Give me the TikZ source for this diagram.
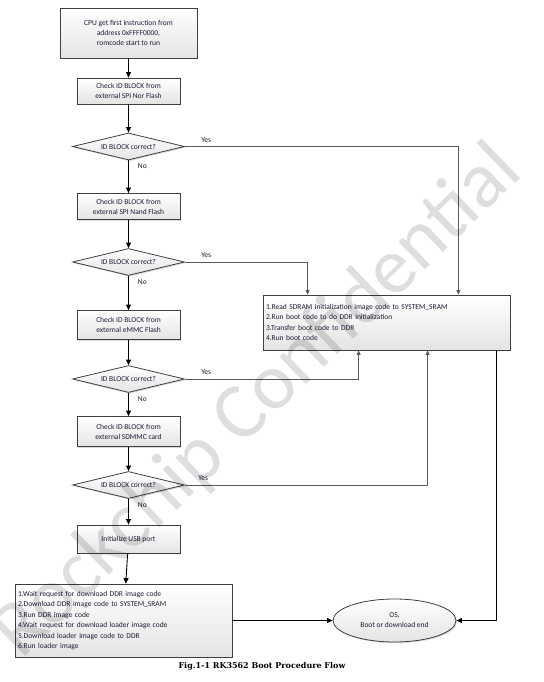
\documentclass[tikz,border=0pt]{standalone}
\usepackage{fontspec}
\setmainfont{Carlito}
\newfontfamily\capfont{DejaVu Serif}
\usepackage{tikz}
\usetikzlibrary{positioning,arrows.meta,calc,shapes.geometric,shadows}
\definecolor{rkline}{HTML}{3F3F3F}
\definecolor{rkgray}{HTML}{5A5A5A}
\definecolor{rkfill}{HTML}{E4E4E4}
\definecolor{rktext}{HTML}{1C1C34}
\tikzset{
    every node/.style={font=\fontsize{7.5}{10}\selectfont,text=rktext},
    rkshade/.style={top color=white,bottom color=rkfill,draw=rkline,line width=0.8pt,
        drop shadow={shadow xshift=1.2pt,shadow yshift=-1.2pt,opacity=0.3}},
    stepbox/.style={rectangle,rkshade,minimum width=103pt,minimum height=26pt,inner sep=1pt,align=center},
    listbox/.style={rectangle,rkshade,inner xsep=3pt,inner ysep=1pt,align=left,
        font=\fontsize{7.5}{10.5}\selectfont},
    check/.style={diamond,rkshade,minimum width=112pt,minimum height=27pt,inner sep=0pt,aspect=4},
    endstate/.style={ellipse,rkshade,minimum width=123pt,minimum height=43pt,inner sep=0pt,align=center},
    yes/.style={anchor=south west,inner sep=0pt,xshift=16pt,yshift=4pt},
    no/.style={anchor=north west,inner sep=0pt,xshift=9pt,yshift=-3pt},
    flow/.style={-{Triangle[length=5.5pt,width=5pt]},line width=0.9pt,black},
    yesline/.style={-{Triangle[length=4.5pt,width=4pt]},line width=0.8pt,rkgray}
}
\begin{document}
\begin{tikzpicture}[x=1pt,y=-1pt]
\useasboundingbox (0,0) rectangle (543,682);
% left column: rom code search order
\node[stepbox,minimum width=137pt,minimum height=50pt] (start) at (128.5,33) {CPU get first instruction from\\address 0xFFFF0000,\\romcode start to run};
\node[stepbox] (nor) at (128.5,91) {Check ID BLOCK from\\external SPI Nor Flash};
\node[check] (d1) at (128.5,146.5) {ID BLOCK correct?};
\node[stepbox] (nand) at (128.5,206.5) {Check ID BLOCK from\\external SPI Nand Flash};
\node[check] (d2) at (128.5,262) {ID BLOCK correct?};
\node[stepbox,minimum height=29pt] (emmc) at (128.5,325) {Check ID BLOCK from\\external eMMC Flash};
\node[check] (d3) at (128.5,379) {ID BLOCK correct?};
\node[stepbox,minimum height=30pt] (sdmmc) at (128.5,431.5) {Check ID BLOCK from\\external SDMMC card};
\node[check] (d4) at (128.5,485) {ID BLOCK correct?};
\node[stepbox,minimum height=28pt] (usb) at (128.5,539) {Initialize USB port};
\node[listbox,text width=211pt,minimum height=73pt] (dl) at (123.5,620.5) {1.Wait request for download DDR image code\\2.Download DDR image code to SYSTEM\_SRAM\\3.Run DDR image code\\4.Wait request for download loader image code\\5.Download loader image code to DDR\\6.Run loader image};
% right side
\node[listbox,text width=241pt,minimum height=55pt] (ddr) at (386.5,322.5) {1.Read SDRAM initialization image code to SYSTEM\_SRAM\\2.Run boot code to do DDR initialization\\3.Transfer boot code to DDR\\4.Run boot code};
\node[endstate] (os) at (394.5,620.5) {OS,\\Boot or download end};
\node[font=\capfont\bfseries\fontsize{8}{10}\selectfont,text=black] (cap) at (262,666) {Fig.1-1 RK3562 Boot Procedure Flow};
% flow
\draw[flow] (start)--(nor);
\draw[flow] (nor)--(d1);
\draw[flow] (d1)--(nand) node[no,pos=0] {No};
\draw[flow] (nand)--(d2);
\draw[flow] (d2)--(emmc) node[no,pos=0] {No};
\draw[flow] (emmc)--(d3);
\draw[flow] (d3)--(sdmmc) node[no,pos=0] {No};
\draw[flow] (sdmmc)--(d4);
\draw[flow] (d4)--(usb) node[no,pos=0] {No};
\draw[flow] (usb)--(dl);
\draw[flow] (dl)--(os);
\draw[yesline] (d1.east) node[yes] {Yes} -| ([xshift=-52pt]ddr.north east);
\draw[yesline] (d2.east) node[yes] {Yes} -| ([xshift=45pt]ddr.north west);
\draw[yesline] (d3.east) node[yes] {Yes} -| ([xshift=96pt]ddr.south west);
\draw[yesline] (d4.east) node[yes,xshift=-3pt] {Yes} -| ([xshift=165pt]ddr.south west);
\draw[flow] ([xshift=-14pt]ddr.south east) |- (os.east);
% watermark
\node[font=\fontsize{80}{80}\selectfont,text=black,opacity=0.13,rotate=44] (wm) at (258,402) {Rockchip Confidential};
\end{tikzpicture}
\end{document}
